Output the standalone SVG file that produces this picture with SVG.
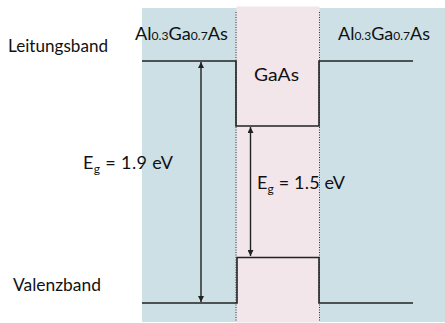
<svg xmlns="http://www.w3.org/2000/svg" width="445" height="323" viewBox="0 0 445 323">
<style>
text{font-family:Lato,"Open Sans","DejaVu Sans",sans-serif;fill:#111;font-size:18px}
.band{fill:none;stroke:#222;stroke-width:1.6}
.arr{fill:none;stroke:#222;stroke-width:1.4}
.dot{stroke:#333;stroke-width:1;stroke-dasharray:1 1.5}
.sub{font-size:12px}
</style>
<defs>
<marker id="ah" viewBox="0 0 8 8" refX="8" refY="4" markerWidth="6" markerHeight="6" orient="auto-start-reverse" markerUnits="userSpaceOnUse">
<path d="M0,0 L8,4 L0,8 Z" fill="#222"/>
</marker>
</defs>
<g id="regions">
<rect x="142" y="8" width="303" height="314" fill="#cce0e6"/>
<rect x="236.5" y="6.5" width="83" height="316" fill="#f2e6ea"/>
<line class="dot" x1="236" y1="12" x2="236" y2="322"/>
<line class="dot" x1="319.5" y1="12" x2="319.5" y2="322"/>
</g>
<g id="conduction-band">
<path class="band" d="M142,61 H236 V126 H319 V61 H413"/>
</g>
<g id="valence-band">
<path class="band" d="M142,303 H237 V257.5 H319 V303 H413"/>
</g>
<g id="connectors">
<line class="arr" x1="201" y1="62" x2="201" y2="302" marker-start="url(#ah)" marker-end="url(#ah)"/>
<line class="arr" x1="250.5" y1="127" x2="250.5" y2="256" marker-start="url(#ah)" marker-end="url(#ah)"/>
</g>
<g id="labels">
<text x="8" y="52" textLength="100" lengthAdjust="spacingAndGlyphs">Leitungsband</text>
<text x="13" y="291" textLength="88" lengthAdjust="spacingAndGlyphs">Valenzband</text>
<text x="135" y="40" textLength="93" lengthAdjust="spacingAndGlyphs">Al<tspan class="sub">0.3</tspan>Ga<tspan class="sub">0.7</tspan>As</text>
<text x="338" y="40" textLength="92" lengthAdjust="spacingAndGlyphs">Al<tspan class="sub">0.3</tspan>Ga<tspan class="sub">0.7</tspan>As</text>
<text x="254" y="81" textLength="45" lengthAdjust="spacingAndGlyphs">GaAs</text>
<text x="83" y="169" textLength="90" lengthAdjust="spacing">E<tspan class="sub" dy="4">g</tspan><tspan dy="-4"> = 1.9 eV</tspan></text>
<text x="257" y="189" textLength="88" lengthAdjust="spacing">E<tspan class="sub" dy="4">g</tspan><tspan dy="-4"> = 1.5 eV</tspan></text>
</g>
</svg>
